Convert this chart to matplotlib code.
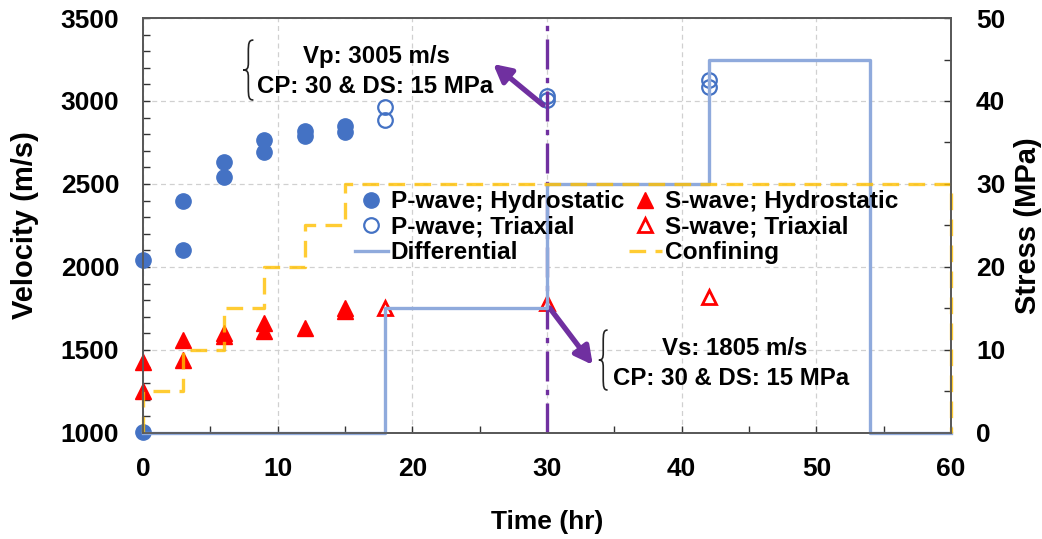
import matplotlib
matplotlib.use("Agg")
import matplotlib.pyplot as plt
from matplotlib.path import Path
from matplotlib.patches import PathPatch
from matplotlib.ticker import MultipleLocator
from matplotlib.lines import Line2D

plt.rcParams['font.family'] = ['Liberation Sans', 'DejaVu Sans']
plt.rcParams['font.weight'] = 'bold'

# ---- data ----
p_hyd_t = [0, 0, 3, 3, 6, 6, 9, 9, 12, 12, 15, 15]
p_hyd_v = [2045, 1005, 2400, 2103, 2635, 2540, 2768, 2690, 2820, 2788, 2848, 2812]

p_tri_t = [18, 18, 30, 30, 42, 42]
p_tri_v = [2966, 2886, 3033, 3005, 3125, 3085]

s_hyd_t = [0, 0, 3, 3, 6, 6, 9, 9, 12, 15, 15]
s_hyd_v = [1430, 1250, 1560, 1440, 1600, 1582, 1665, 1615, 1635, 1750, 1735]

s_tri_t = [18, 30, 42]
s_tri_v = [1750, 1785, 1822]

diff_t = [0, 18, 30, 42, 54, 60]
diff_s = [0, 15, 30, 45, 0, 0]

conf_t = [0, 0, 3, 6, 9, 12, 15, 60, 60]
conf_s = [0, 5, 10, 15, 20, 25, 30, 30, 0]

marker_time = 30

BLUE = '#4472C4'
LBLUE = '#8FAADC'
RED = '#FF0000'
GOLD = '#FFC000'
PURPLE = '#7030A0'
SPINE = '#595959'

fig = plt.figure(figsize=(10.42, 5.39), dpi=100)
ax = fig.add_axes([0.1372, 0.1967, 0.7755, 0.7699])
ax2 = ax.twinx()

ax.set_xlim(0, 60)
ax.set_ylim(1000, 3500)
ax2.set_ylim(0, 50)

# grid
ax.xaxis.set_major_locator(MultipleLocator(10))
ax.xaxis.set_minor_locator(MultipleLocator(5))
ax.yaxis.set_major_locator(MultipleLocator(500))
ax.yaxis.set_minor_locator(MultipleLocator(100))
ax2.yaxis.set_major_locator(MultipleLocator(10))
ax2.yaxis.set_minor_locator(MultipleLocator(5))
ax.grid(True, which='major', color='#D0D0D0', linestyle=(0, (4, 3)), linewidth=0.9)
ax.set_axisbelow(True)

for a in (ax, ax2):
    for s in a.spines.values():
        s.set_color(SPINE)
        s.set_linewidth(1.3)

ax.tick_params(axis='both', which='both', direction='in', color='#333333', width=1.0)
ax.tick_params(axis='both', which='major', length=5, labelsize=19)
ax.tick_params(axis='both', which='minor', length=5)
ax.tick_params(axis='y', pad=17)
ax.tick_params(axis='x', pad=17, top=False)
ax2.tick_params(axis='y', which='both', direction='in', color='#333333', width=1.0, length=5, labelsize=19, pad=18)

ax.set_xlabel('Time (hr)', fontsize=19, fontweight='bold', labelpad=21)
ax.set_ylabel('Velocity (m/s)', fontsize=21, fontweight='bold', labelpad=16)
ax2.set_ylabel('Stress (MPa)', fontsize=21, fontweight='bold', labelpad=6)

# scatter
ax.plot(p_hyd_t, p_hyd_v, 'o', color=BLUE, markersize=11, linestyle='none', clip_on=False, zorder=3)
ax.plot(p_tri_t, p_tri_v, 'o', mfc='none', mec=BLUE, mew=1.6, markersize=10.5, linestyle='none', zorder=3)
ax.plot(s_hyd_t, s_hyd_v, '^', color=RED, markersize=11.5, linestyle='none', clip_on=False, zorder=3)
ax.plot(s_tri_t, s_tri_v, '^', mfc='none', mec=RED, mew=2.0, markersize=10.5, linestyle='none', zorder=3)

# stress lines
ax2.step(diff_t, diff_s, where='post', color=LBLUE, linewidth=2.4, clip_on=False)
ax2.step(conf_t, conf_s, where='post', color=GOLD, alpha=0.8, linewidth=2.4,
         linestyle=(0, (5, 2.8)), clip_on=False)

# vertical marker line
ax.axvline(marker_time, color=PURPLE, linewidth=2.4, linestyle=(0, (9, 2.5, 1.6, 2.5)), zorder=4)

# arrows
arrow_style = '-|>,head_length=1.05,head_width=0.55'
ax.annotate('', xy=(26.0, 3223), xytext=(29.7, 2976),
            arrowprops=dict(arrowstyle=arrow_style, color=PURPLE, lw=3.8, shrinkA=0, shrinkB=0), zorder=5)
ax.annotate('', xy=(33.4, 1410), xytext=(30.2, 1753),
            arrowprops=dict(arrowstyle=arrow_style, color=PURPLE, lw=3.8, shrinkA=0, shrinkB=0), zorder=5)

# annotation texts
FS_ANN = 17.3
ax.text(17.3, 3270, 'Vp: 3005 m/s', ha='center', va='center', fontsize=FS_ANN, fontweight='bold')
ax.text(17.2, 3088, 'CP: 30 & DS: 15 MPa', ha='center', va='center', fontsize=FS_ANN, fontweight='bold')
ax.text(43.95, 1508, 'Vs: 1805 m/s', ha='center', va='center', fontsize=FS_ANN, fontweight='bold')
ax.text(43.7, 1328, 'CP: 30 & DS: 15 MPa', ha='center', va='center', fontsize=FS_ANN, fontweight='bold')


def brace(a, x0, x1, y0, y1):
    w = x1 - x0
    h = y1 - y0
    pts = [(1, 1), (0.55, 1), (0.5, 0.95), (0.5, 0.8),
           (0.5, 0.62),
           (0.5, 0.53), (0.4, 0.5), (0, 0.5),
           (0.4, 0.5), (0.5, 0.47), (0.5, 0.38),
           (0.5, 0.2),
           (0.5, 0.05), (0.55, 0), (1, 0)]
    codes = [Path.MOVETO, Path.CURVE4, Path.CURVE4, Path.CURVE4,
             Path.LINETO,
             Path.CURVE4, Path.CURVE4, Path.CURVE4,
             Path.CURVE4, Path.CURVE4, Path.CURVE4,
             Path.LINETO,
             Path.CURVE4, Path.CURVE4, Path.CURVE4]
    verts = [(x0 + px * w, y0 + py * h) for px, py in pts]
    a.add_patch(PathPatch(Path(verts, codes), fill=False, edgecolor='#222222', linewidth=1.2, zorder=5))


brace(ax, 7.45, 8.2, 3006, 3367)
brace(ax, 33.85, 34.5, 1259, 1620)

# legend
handles = [
    Line2D([], [], marker='o', color=BLUE, linestyle='none', markersize=11),
    Line2D([], [], marker='o', mfc='none', mec=BLUE, mew=1.6, linestyle='none', markersize=10.5),
    Line2D([], [], color=LBLUE, linewidth=2.4),
    Line2D([], [], marker='^', color=RED, linestyle='none', markersize=11.5),
    Line2D([], [], marker='^', mfc='none', mec=RED, mew=2.0, linestyle='none', markersize=10.5),
    Line2D([], [], color=GOLD, alpha=0.8, linewidth=2.4, linestyle=(0, (5, 2.8))),
]
labels = ['P-wave; Hydrostatic', 'P-wave; Triaxial', 'Differential',
          'S-wave; Hydrostatic', 'S-wave; Triaxial', 'Confining']
leg = ax2.legend(handles, labels, ncol=2, loc='upper left', bbox_to_anchor=(0.262, 0.585),
                 frameon=False, prop={'weight': 'bold', 'size': 17.6},
                 handlelength=1.35, handletextpad=0.12, columnspacing=0.2,
                 labelspacing=0.1, borderpad=0, borderaxespad=0)

fig.savefig('out.png', dpi=100)
